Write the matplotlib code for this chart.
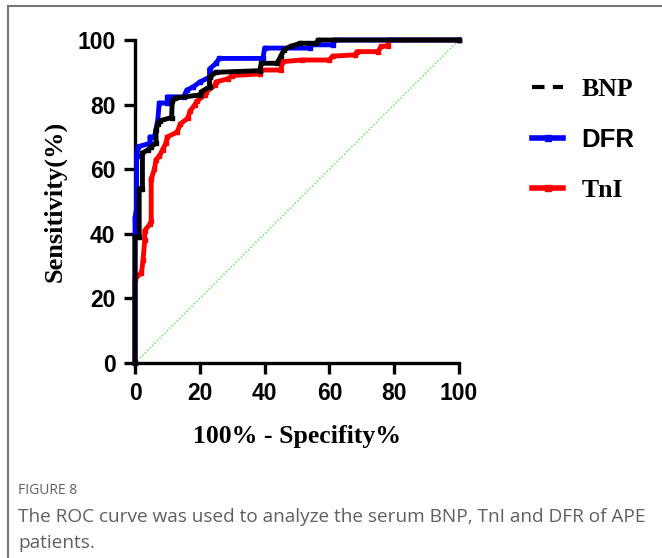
import matplotlib
matplotlib.use("Agg")
import matplotlib.pyplot as plt
from matplotlib.lines import Line2D

# ---- data (100% - specificity, sensitivity) ----
bnp_x = [0, 0, 1.3, 1.3, 2.3, 2.3, 4, 5, 6.5, 6.5, 7, 7.7, 11.3, 11.5, 12.4, 20, 20.5, 23, 23, 25, 38.5, 39, 43.8, 45, 46, 48, 51, 56, 56.5, 100]
bnp_y = [0, 39, 39, 54, 54, 65, 66, 67, 68, 72, 74, 75, 76, 81, 82, 83, 84, 85.5, 88.5, 90, 90.5, 92.8, 92.8, 95, 97, 98, 99, 99, 100, 100]

dfr_x = [0, 0, 0.5, 0.5, 1, 4.6, 4.6, 6, 7, 7.5, 10, 10, 15, 16, 18, 20, 23, 23, 25, 26, 39.5, 40, 54, 54, 61, 61.5, 100]
dfr_y = [0, 45, 48, 64, 67, 68, 70, 70, 75, 80.5, 80.5, 82.4, 82.4, 84.5, 85.5, 87, 88.5, 91, 92.8, 94.3, 94.3, 97.5, 97.5, 98.5, 98.5, 100, 100]

tni_x = [0, 0, 2, 2.5, 3, 3, 4.6, 5, 5, 6, 6.5, 7.5, 8.5, 9.5, 10, 13, 14, 16.3, 17, 18.5, 19, 21.6, 22, 24.7, 25, 28.7, 30, 38.6, 39, 45, 45.5, 51.5, 60, 61, 68, 68.5, 75, 76, 78, 78.5, 100]
tni_y = [0, 26, 28, 32, 38, 41, 43, 44, 57, 60, 63, 64, 66, 68, 70, 71.5, 74, 75.8, 78, 80, 81, 83, 84, 86, 87, 88, 89, 89.5, 90.7, 90.7, 93.3, 93.8, 93.8, 95, 95.4, 96.4, 96.4, 98, 98.2, 100, 100]

ref_x = [0, 100]
ref_y = [0, 100]

ticks = [0, 20, 40, 60, 80, 100]
labels = ["BNP", "DFR", "TnI"]

W, H = 662, 558
fig = plt.figure(figsize=(W / 100, H / 100), dpi=100)

# outer frame (top and left lines of the article box)
fig.add_artist(Line2D([8 / W, 8 / W], [0, 1 - 6 / H], color="#777777", lw=1.5, transform=fig.transFigure))
fig.add_artist(Line2D([8 / W, 1], [1 - 6 / H, 1 - 6 / H], color="#777777", lw=1.5, transform=fig.transFigure))

ax = fig.add_axes([135 / W, 1 - 363 / H, (459 - 135) / W, (363 - 40) / H])
ax.set_xlim(0, 100)
ax.set_ylim(0, 100)

ax.plot(ref_x, ref_y, color="#44ee44", lw=1.0, ls=(0, (1, 1.5)), zorder=1)
ax.plot(tni_x, tni_y, color="#ff0000", lw=3.5, marker="s", ms=3.2, clip_on=False, zorder=3)
ax.plot(dfr_x, dfr_y, color="#0000ff", lw=3.5, marker="s", ms=3.2, clip_on=False, zorder=4)
ax.plot(bnp_x, bnp_y, color="#000000", lw=3.5, marker="s", ms=3.2, clip_on=False, zorder=5)

for s in ["top", "right"]:
    ax.spines[s].set_visible(False)
for s in ["left", "bottom"]:
    ax.spines[s].set_linewidth(2.4)
ax.set_xticks(ticks)
ax.set_yticks(ticks)
ax.tick_params(axis="both", direction="out", length=8, width=2.4, pad=6)
for t in ax.get_xticklabels() + ax.get_yticklabels():
    t.set_fontfamily("Liberation Sans")
    t.set_fontweight("bold")
    t.set_fontsize(16.5)

ax.set_xlabel("100% - Specifity%", fontfamily="Liberation Serif", fontweight="bold", fontsize=18.5, labelpad=14)
ax.set_ylabel("Sensitivity(%)", fontfamily="Liberation Serif", fontweight="bold", fontsize=19, labelpad=8)

handles = [
    Line2D([], [], color="black", lw=3, ls=(0, (3, 2))),
    Line2D([], [], color="#0000ff", lw=4, marker="s", ms=4),
    Line2D([], [], color="#ff0000", lw=4, marker="s", ms=4),
]
leg = ax.legend(handles, labels, loc="upper left", bbox_to_anchor=(1.195, 0.915), frameon=False,
                handlelength=1.2, handletextpad=0.7, labelspacing=1.05, fontsize=18.5, borderaxespad=0)
fams = ["Liberation Serif", "Liberation Sans", "Liberation Serif"]
for t, f in zip(leg.get_texts(), fams):
    t.set_fontfamily(f)
    t.set_fontweight("bold")

fig.text(18 / W, 1 - 490 / H, "FIGURE 8", fontfamily="Open Sans", fontsize=10, color="#606060", va="center", ha="left")
fig.text(18 / W, 1 - 517 / H, "The ROC curve was used to analyze the serum BNP, TnI and DFR of APE",
         fontfamily="Open Sans", fontsize=13.7, color="#606060", va="center", ha="left")
fig.text(18 / W, 1 - 543 / H, "patients.", fontfamily="Open Sans", fontsize=13.7, color="#606060", va="center", ha="left")

fig.savefig("out.png", dpi=100)
